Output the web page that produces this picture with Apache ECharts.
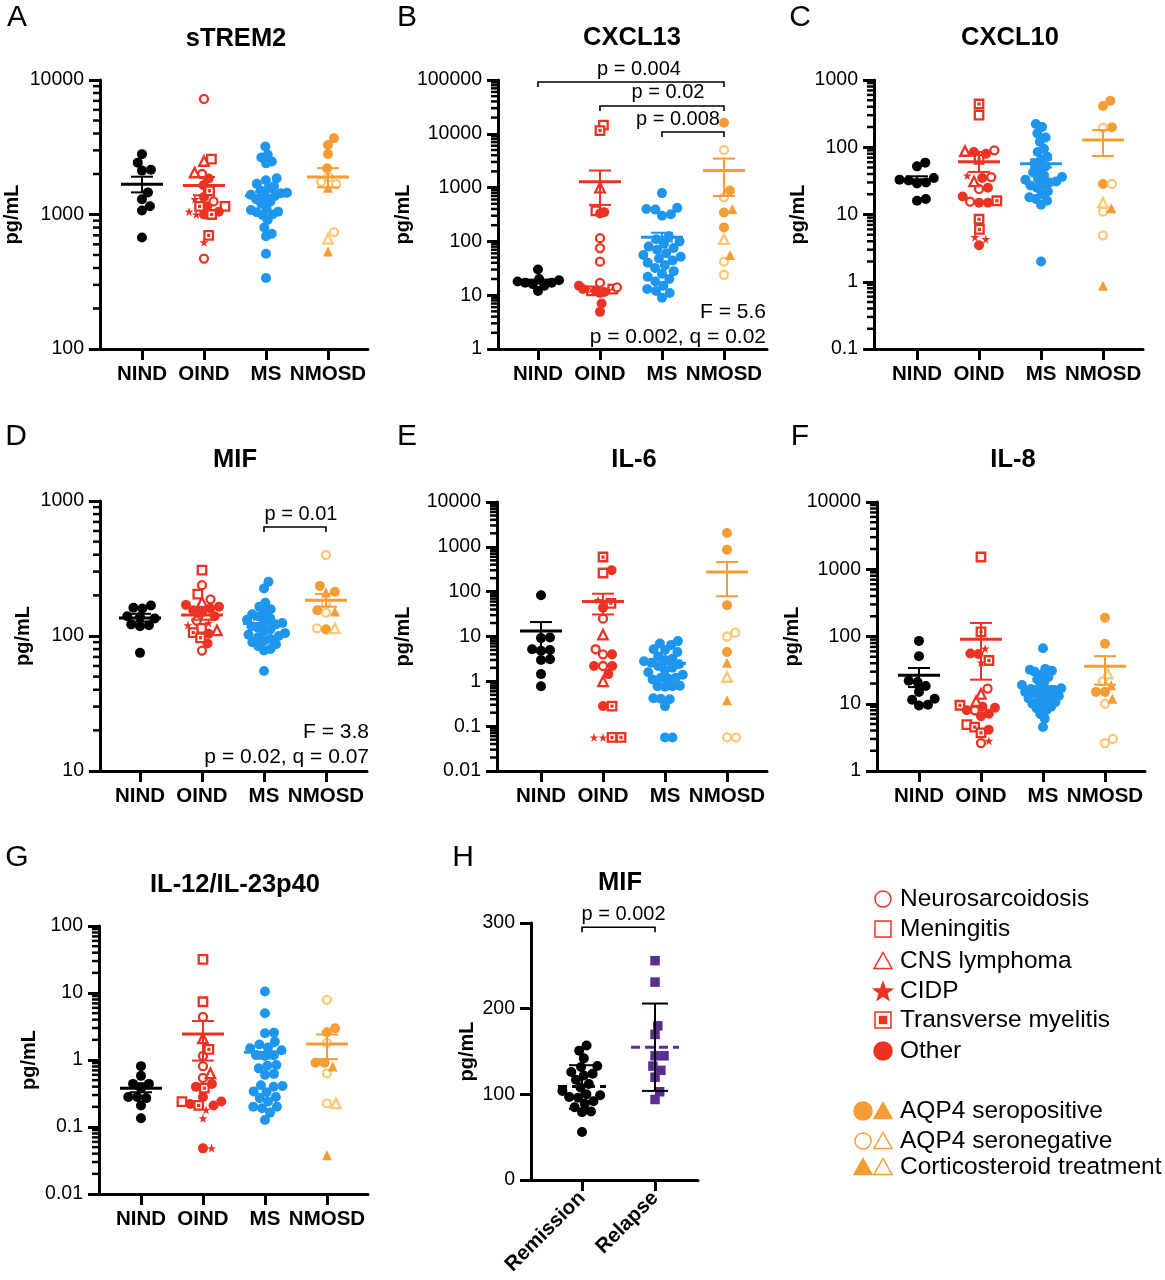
<!DOCTYPE html>
<html>
<head>
<meta charset="utf-8">
<script src="https://cdn.jsdelivr.net/npm/echarts@6/dist/echarts.min.js"></script>
<style>
html, body { margin: 0; padding: 0; background: #fff; }
#main { width: 1165px; height: 1280px; }
</style>
</head>
<body>
<div id="main"></div>
<script>
// values (pg/mL)
var groupNames = ['NIND', 'OIND', 'MS', 'NMOSD'];

// A  sTREM2
var strem2Nind = [2810, 2430, 2150, 2120, 1460, 1300, 1150, 1070, 675];
var strem2Oind = [[7230,'NS'],[2580,'MEN'],[2500,'LYM'],[2050,'LYM'],[2000,'NS'],[1850,'OTH'],[1650,'OTH'],[1500,'TM'],[1350,'OTH'],[1300,'CIDP'],[1250,'NS'],[1150,'OTH'],[1150,'TM'],[1150,'MEN'],[1050,'OTH'],[1050,'CIDP'],[1000,'OTH'],[1000,'TM'],[1000,'CIDP'],[700,'TM'],[620,'CIDP'],[470,'NS']];
var strem2Ms = [3200, 2780, 2650, 2480, 2400, 1860, 1800, 1690, 1620, 1560, 1500, 1450, 1440, 1400, 1380, 1360, 1300, 1250, 1200, 1110, 1080, 1050, 1040, 1000, 990, 910, 800, 720, 690, 510, 337];
var strem2Nmo = [[3690,'POS'],[3290,'POS'],[2820,'POS'],[2210,'POS'],[1900,'NEG'],[1750,'NEG'],[1680,'NEG'],[1580,'POS_CS'],[740,'NEG'],[660,'NEG_CS'],[530,'POS_CS']];
var strem2Mean = [1680, 1640, 1380, 1900];
var strem2Sem = [[1460, 1910], [1390, 1900], [1290, 1480], [1590, 2210]];

// B  CXCL13
var cxcl13Nind = [30, 20, 19, 18, 17, 17, 16, 15, 12];
var cxcl13Oind = [[14500,'MEN'],[11500,'TM'],[1000,'LYM'],[370,'MEN'],[350,'OTH'],[330,'OTH'],[115,'NS'],[75,'NS'],[42,'NS'],[17,'NS'],[15,'OTH'],[14,'NS'],[13,'CIDP'],[13,'TM'],[13,'OTH'],[12.5,'CIDP'],[12,'OTH'],[12,'TM'],[11.5,'OTH'],[11,'OTH'],[7,'OTH'],[4.9,'OTH']];
var cxcl13Ms = [790, 420, 400, 390, 320, 300, 124, 110, 100, 90, 80, 75, 70, 60, 56, 52, 48, 44, 40, 36, 32, 28, 25, 22, 20, 18, 15, 13, 12, 11, 9];
var cxcl13Nmo = [[16100,'POS'],[5020,'NEG'],[880,'POS'],[660,'NEG'],[400,'POS_CS'],[345,'POS'],[182,'POS'],[110,'NEG_CS'],[56,'POS_CS'],[42,'NEG'],[24,'NEG']];
var cxcl13Mean = [18, 1290, 120, 2080];
var cxcl13Sem = [[16.5, 19.5], [477, 2075], [100, 145], [700, 3470]];
var cxcl13Pairs = [[0, 3, 91800], [1, 3, 32900], [2, 3, 10800]];
var cxcl13PLabels = ['p = 0.004', 'p = 0.02', 'p = 0.008'];

// C  CXCL10
var cxcl10Nind = [59, 52, 35, 33, 32, 30, 29, 17, 16];
var cxcl10Oind = [[440,'TM'],[300,'MEN'],[90,'NS'],[88,'LYM'],[85,'OTH'],[80,'OTH'],[66,'TM'],[38,'CIDP'],[36,'NS'],[35,'OTH'],[31,'LYM'],[25,'OTH'],[24,'NS'],[18.5,'OTH'],[16,'TM'],[15.5,'NS'],[15,'OTH'],[15,'OTH'],[8.5,'TM'],[6,'TM'],[4.6,'CIDP'],[4.3,'CIDP'],[3.5,'OTH']];
var cxcl10Ms = [222, 200, 161, 140, 121, 95, 85, 72, 65, 58, 52, 47, 42, 38, 36, 34, 33, 31, 30, 28, 27, 25, 22, 20, 18, 17, 16, 14, 2];
var cxcl10Nmo = [[490,'POS'],[410,'POS'],[198,'POS'],[195,'NEG'],[28.5,'POS'],[28.5,'NEG'],[15,'NEG_CS'],[12.4,'POS_CS'],[11,'NEG'],[4.9,'NEG'],[0.87,'POS_CS']];
var cxcl10Mean = [33, 61, 57, 128];
var cxcl10Sem = [[29, 37], [43, 85], [50, 66], [74, 180]];

// D  MIF
var mifNind = [168, 162, 160, 140, 138, 135, 122, 120, 118, 75];
var mifOind = [[308,'MEN'],[238,'NS'],[204,'MEN'],[187,'NS'],[178,'LYM'],[170,'OTH'],[165,'OTH'],[160,'OTH'],[155,'OTH'],[150,'OTH'],[140,'OTH'],[130,'NS'],[125,'CIDP'],[120,'CIDP'],[114,'MEN'],[110,'LYM'],[106,'TM'],[104,'OTH'],[97,'TM'],[88,'OTH'],[78,'NS']];
var mifMs = [252, 225, 176, 165, 158, 150, 145, 140, 135, 132, 128, 125, 122, 118, 115, 112, 108, 105, 102, 100, 98, 95, 92, 90, 87, 84, 80, 78, 55];
var mifNmo = [[398,'NEG'],[235,'POS'],[213,'POS'],[210,'POS_CS'],[174,'NEG'],[155,'POS'],[152,'POS_CS'],[149,'NEG'],[114,'NEG_CS'],[114,'NEG'],[112,'POS']];
var mifMean = [136, 143, 124, 184];
var mifSem = [[128, 146], [132, 158], [117, 132], [165, 205]];
var mifPairs = [[2, 3, 641]];
var mifPLabels = ['p = 0.01'];

// E  IL-6
var il6Nind = [83, 9.5, 9.2, 5.2, 5.0, 4.8, 3.1, 3.0, 1.45, 0.78];
var il6Oind = [[593,'TM'],[300,'OTH'],[261,'MEN'],[65,'CIDP'],[55,'TM'],[44,'OTH'],[25,'NS'],[11,'LYM'],[5.2,'NS'],[4.0,'NS'],[4.0,'OTH'],[2.2,'NS'],[2.2,'OTH'],[2.2,'OTH'],[1.45,'OTH'],[1.0,'LYM'],[0.28,'OTH'],[0.28,'TM'],[0.056,'CIDP'],[0.056,'TM'],[0.056,'CIDP'],[0.056,'TM']];
var il6Ms = [7.9, 7.0, 6.5, 5.2, 5.0, 4.5, 3.6, 3.2, 3.0, 2.8, 2.6, 2.4, 2.2, 2.0, 1.8, 1.6, 1.4, 1.2, 1.2, 1.15, 1.1, 0.8, 0.78, 0.78, 0.76, 0.42, 0.41, 0.4, 0.28, 0.056, 0.056];
var il6Nmo = [[2040,'POS'],[865,'POS'],[50,'POS'],[12.2,'NEG'],[10,'NEG'],[4.5,'POS'],[2.6,'POS_CS'],[1.25,'NEG_CS'],[0.38,'POS_CS'],[0.056,'NEG'],[0.056,'NEG']];
var il6Mean = [13.3, 60, 2.5, 275];
var il6Sem = [[4.5, 21], [31, 90], [2.0, 3.0], [79, 460]];

// F  IL-8
var il8Nind = [86, 51, 22, 21, 18.4, 15, 11.9, 11.5, 9.7, 9.4];
var il8Oind = [[1520,'MEN'],[117,'TM'],[66,'CIDP'],[56,'OTH'],[55,'OTH'],[44,'TM'],[41,'CIDP'],[16.8,'NS'],[14,'LYM'],[10.9,'LYM'],[9.5,'TM'],[9,'OTH'],[8.7,'OTH'],[8,'NS'],[8,'OTH'],[7.1,'OTH'],[6.5,'OTH'],[4.9,'MEN'],[4.5,'TM'],[4.1,'OTH'],[3.7,'TM'],[2.8,'CIDP'],[2.6,'NS']];
var il8Ms = [67, 33, 32, 31, 30, 27, 25, 23, 21, 19, 18, 17, 16.5, 16, 15.5, 15, 14.5, 14, 13, 12.5, 12, 11.5, 11, 10.5, 10, 9.5, 9, 8.5, 8, 7, 6, 4.5];
var il8Nmo = [[190,'POS'],[78,'POS'],[28,'NEG_CS'],[21.5,'NEG'],[18.8,'POS_CS'],[15,'POS'],[15,'POS'],[11.9,'POS_CS'],[10,'NEG'],[3.0,'NEG'],[2.6,'NEG']];
var il8Mean = [26.5, 91, 16.2, 36];
var il8Sem = [[17.7, 34], [22.8, 159], [14.3, 18.3], [19.2, 51]];

// G  IL-12/IL-23p40
var il12Nind = [0.81, 0.58, 0.44, 0.44, 0.38, 0.28, 0.28, 0.27, 0.21, 0.135];
var il12Oind = [[31.8,'MEN'],[7.4,'MEN'],[4.4,'NS'],[2.1,'LYM'],[1.44,'TM'],[1.15,'NS'],[0.81,'NS'],[0.63,'LYM'],[0.54,'NS'],[0.44,'OTH'],[0.4,'OTH'],[0.38,'TM'],[0.28,'OTH'],[0.24,'OTH'],[0.24,'MEN'],[0.22,'OTH'],[0.21,'TM'],[0.21,'OTH'],[0.18,'CIDP'],[0.135,'CIDP'],[0.048,'OTH'],[0.048,'CIDP']];
var il12Ms = [10.5, 5.0, 2.56, 2.5, 1.88, 1.7, 1.54, 1.5, 1.4, 1.19, 1.18, 1.15, 0.84, 0.82, 0.75, 0.62, 0.6, 0.42, 0.41, 0.4, 0.34, 0.33, 0.28, 0.27, 0.24, 0.2, 0.2, 0.19, 0.164, 0.127];
var il12Nmo = [[7.9,'NEG'],[2.97,'POS'],[2.6,'POS'],[1.8,'NEG'],[0.91,'POS'],[0.91,'POS'],[0.8,'POS_CS'],[0.63,'NEG'],[0.225,'NEG'],[0.225,'NEG_CS'],[0.038,'POS_CS']];
var il12Mean = [0.38, 2.44, 1.3, 1.73];
var il12Sem = [[0.33, 0.45], [0.98, 3.82], [1.05, 1.6], [1.03, 2.4]];

// H  MIF, NMOSD remission vs relapse (mean +/- SD)
var hGroups = ['Remission', 'Relapse'];
var mifRemission = [157, 151, 142, 133, 132, 126, 124, 122, 117, 112, 108, 104, 100, 99, 97, 96, 92, 89, 85, 80, 79, 56];
var mifRelapse = [256, 231, 180, 170, 145, 145, 133, 128, 120, 103, 94];
var hMean = [109, 155];
var hSd = [[83, 134], [104, 206]];
var hPairs = [[0, 1, 295]];
var hPLabels = ['p = 0.002'];

var legendOind = ['Neurosarcoidosis', 'Meningitis', 'CNS lymphoma', 'CIDP', 'Transverse myelitis', 'Other'];
var legendNmo = ['AQP4 seropositive', 'AQP4 seronegative', 'Corticosteroid treatment'];

// ---- styles ----
var FONT = 'Liberation Sans, Arial, Helvetica, sans-serif';
var RED = '#ec3323', BLUE = '#1f96ee', ORANGE = '#f59c34', LIGHT = '#f8c878', PURPLE = '#5b2d8d';
var STAR = 'path://M50,0L61.8,35.3L99,35.3L69,57.2L80.4,92.7L50,70.8L19.6,92.7L31,57.2L1,35.3L38.2,35.3Z';

var kindStyle = {
  NIND:   { symbol: 'circle', size: 10, color: '#000' },
  MS:     { symbol: 'circle', size: 10, color: BLUE },
  OTH:    { symbol: 'circle', size: 10, color: RED },
  NS:     { symbol: 'circle', size: 8, color: '#fff', border: RED },
  MEN:    { symbol: 'rect', size: 8.5, color: '#fff', border: RED },
  TM:     { symbol: 'rect', size: 8.5, color: '#fff', border: RED },
  LYM:    { symbol: 'triangle', size: 9.5, color: '#fff', border: RED },
  CIDP:   { symbol: STAR, size: 9, color: RED },
  POS:    { symbol: 'circle', size: 10, color: ORANGE },
  POS_CS: { symbol: 'triangle', size: 10, color: ORANGE },
  NEG:    { symbol: 'circle', size: 8, color: '#fff', border: LIGHT },
  NEG_CS: { symbol: 'triangle', size: 9.5, color: '#fff', border: LIGHT },
  REM:    { symbol: 'circle', size: 10, color: '#000' },
  REL:    { symbol: 'rect', size: 9.5, color: PURPLE }
};

var panels = [
  { letter: 'A', title: 'sTREM2', groups: [strem2Nind, strem2Oind, strem2Ms, strem2Nmo], mean: strem2Mean, err: strem2Sem, yMin: 100, yMax: 10000 },
  { letter: 'B', title: 'CXCL13', groups: [cxcl13Nind, cxcl13Oind, cxcl13Ms, cxcl13Nmo], mean: cxcl13Mean, err: cxcl13Sem, yMin: 1, yMax: 100000,
    pairs: cxcl13Pairs, pLabels: cxcl13PLabels, pShift: [8, 6, -15], stats: ['F = 5.6', 'p = 0.002, q = 0.02'] },
  { letter: 'C', title: 'CXCL10', groups: [cxcl10Nind, cxcl10Oind, cxcl10Ms, cxcl10Nmo], mean: cxcl10Mean, err: cxcl10Sem, yMin: 0.1, yMax: 1000 },
  { letter: 'D', title: 'MIF', groups: [mifNind, mifOind, mifMs, mifNmo], mean: mifMean, err: mifSem, yMin: 10, yMax: 1000,
    pairs: mifPairs, pLabels: mifPLabels, pShift: [6], stats: ['F = 3.8', 'p = 0.02, q = 0.07'] },
  { letter: 'E', title: 'IL-6', groups: [il6Nind, il6Oind, il6Ms, il6Nmo], mean: il6Mean, err: il6Sem, yMin: 0.01, yMax: 10000 },
  { letter: 'F', title: 'IL-8', groups: [il8Nind, il8Oind, il8Ms, il8Nmo], mean: il8Mean, err: il8Sem, yMin: 1, yMax: 10000 },
  { letter: 'G', title: 'IL-12/IL-23p40', groups: [il12Nind, il12Oind, il12Ms, il12Nmo], mean: il12Mean, err: il12Sem, yMin: 0.01, yMax: 100 },
  { letter: 'H', title: 'MIF', groups: [mifRemission, mifRelapse], mean: hMean, err: hSd, yMin: 0, yMax: 300, linear: true,
    cats: hGroups, pairs: hPairs, pLabels: hPLabels, pShift: [5] }
];

// pixel frame of every panel (axis corner, size, first category offset)
var frames = [
  { left: 100, top: 80,  width: 268, height: 269, x0: -0.677, step: 62, nameGap: 78, title: [236, 39], letter: [17, 18] },
  { left: 498, top: 80,  width: 269, height: 269, x0: -0.645, step: 62, nameGap: 85, title: [632, 38], letter: [407, 18], stats: [766, 312, 337] },
  { left: 874, top: 80,  width: 269, height: 269, x0: -0.694, step: 62, nameGap: 66, title: [1010, 38], letter: [800, 18] },
  { left: 100, top: 501, width: 267, height: 270, x0: -0.645, step: 62, nameGap: 67, title: [235, 460], letter: [16, 437], stats: [369, 732, 757] },
  { left: 497, top: 502, width: 270, height: 269, x0: -0.710, step: 62, nameGap: 84, title: [634, 460], letter: [407, 437] },
  { left: 877, top: 502, width: 268, height: 269, x0: -0.677, step: 62, nameGap: 70, title: [1013, 460], letter: [800, 437] },
  { left: 99,  top: 926, width: 269, height: 268, x0: -0.677, step: 62, nameGap: 60, title: [235, 885], letter: [17, 858] },
  { left: 531, top: 923, width: 167, height: 257, x0: -0.699, step: 73, nameGap: 54, title: [620, 883], letter: [463, 858] }
];

// simple beeswarm: horizontal offsets (px) so that dots of diameter d do not overlap,
// then squeezed so that no group spreads wider than maxHalf px
function swarm(ys, d, maxHalf) {
  var order = ys.map(function (y, i) { return i; }).sort(function (a, b) { return ys[a] - ys[b]; });
  var placed = [], out = [];
  order.forEach(function (i) {
    var y = ys[i], cands = [0];
    placed.forEach(function (p) {
      var dy = Math.abs(p.y - y);
      if (dy < d) {
        var dx = Math.sqrt(d * d - dy * dy);
        cands.push(p.x + dx, p.x - dx);
      }
    });
    cands.sort(function (a, b) { return Math.abs(a) - Math.abs(b); });
    for (var k = 0; k < cands.length; k++) {
      var c = cands[k];
      var ok = placed.every(function (p) { return (p.x - c) * (p.x - c) + (p.y - y) * (p.y - y) >= d * d - 0.01; });
      if (ok) { out[i] = c; placed.push({ x: c, y: y }); break; }
    }
  });
  var widest = Math.max.apply(null, out.map(Math.abs));
  if (widest > maxHalf) out = out.map(function (o) { return o * maxHalf / widest; });
  return out;
}

function fmtNum(v) { return String(+Number(v).toPrecision(6)); }

function minorTickItem(params, api) {
  var p = api.coord([api.value(0), api.value(1)]);
  return { type: 'line', shape: { x1: p[0] - 7, y1: p[1], x2: p[0], y2: p[1] }, style: { stroke: '#000', lineWidth: 2.5 } };
}

function errorBarItem(colors, meanHalf, capHalf, dashed, barColor) {
  return function (params, api) {
    var g = api.value(0);
    var m = api.coord([g, api.value(1)]);
    var lo = api.coord([g, api.value(2)]);
    var hi = api.coord([g, api.value(3)]);
    var mc = colors[g], bc = barColor || mc, x = m[0];
    return { type: 'group', children: [
      { type: 'line', shape: { x1: x, y1: lo[1], x2: x, y2: hi[1] }, style: { stroke: bc, lineWidth: 2 } },
      { type: 'line', shape: { x1: x - capHalf, y1: lo[1], x2: x + capHalf, y2: lo[1] }, style: { stroke: bc, lineWidth: 2 } },
      { type: 'line', shape: { x1: x - capHalf, y1: hi[1], x2: x + capHalf, y2: hi[1] }, style: { stroke: bc, lineWidth: 2 } },
      { type: 'line', shape: { x1: x - meanHalf, y1: m[1], x2: x + meanHalf, y2: m[1] }, style: { stroke: mc, lineWidth: 3, lineDash: dashed ? [9, 5] : null } }
    ] };
  };
}

function bracketItem(labels, shifts) {
  return function (params, api) {
    var a = api.coord([api.value(0), api.value(2)]);
    var b = api.coord([api.value(1), api.value(2)]);
    var i = params.dataIndex;
    return { type: 'group', children: [
      { type: 'polyline', shape: { points: [[a[0], a[1] + 5], [a[0], a[1]], [b[0], b[1]], [b[0], b[1] + 5]] }, style: { stroke: '#000', lineWidth: 1.6, fill: null } },
      { type: 'text', x: (a[0] + b[0]) / 2 + shifts[i], y: a[1] - 13, style: { text: labels[i], fill: '#000', fontSize: 20, fontFamily: FONT, align: 'center', verticalAlign: 'middle' } }
    ] };
  };
}

function txt(x, y, s, size, weight, align) {
  return { type: 'text', x: x, y: y, silent: true, z: 10,
    style: { text: s, fill: '#000', fontSize: size, fontWeight: weight || 'normal', fontFamily: FONT, align: align || 'center', verticalAlign: 'middle' } };
}

var grids = [], xAxes = [], yAxes = [], series = [], graphics = [];

panels.forEach(function (p, pi) {
  var f = frames[pi];
  var cats = p.cats || groupNames;
  var idx = cats.map(function (c, i) { return i; });
  var xMin = f.x0, xMax = f.x0 + f.width / f.step;
  var lmin = p.linear ? p.yMin : Math.log10(p.yMin);
  var lmax = p.linear ? p.yMax : Math.log10(p.yMax);

  grids.push({ left: f.left, top: f.top, width: f.width, height: f.height });
  xAxes.push({
    type: 'value', gridIndex: pi, min: xMin, max: xMax,
    axisLine: { onZero: false, lineStyle: { color: '#000', width: 3 } },
    axisTick: { customValues: idx, length: 11, lineStyle: { color: '#000', width: 3 } },
    axisLabel: { customValues: idx, formatter: function (v) { return cats[Math.round(v)]; },
      margin: 15, color: '#000', fontFamily: FONT, fontWeight: 'bold', fontSize: 20.5, rotate: p.linear ? 45 : 0 },
    splitLine: { show: false }
  });
  var ya = {
    type: p.linear ? 'value' : 'log', gridIndex: pi, min: p.yMin, max: p.yMax,
    name: 'pg/mL', nameLocation: 'middle', nameGap: f.nameGap,
    nameTextStyle: { color: '#000', fontFamily: FONT, fontWeight: 'bold', fontSize: 20 },
    axisLine: { show: true, onZero: false, lineStyle: { color: '#000', width: 3 } },
    axisTick: { show: true, length: 11, lineStyle: { color: '#000', width: 3 } },
    axisLabel: { margin: 16, color: '#000', fontFamily: FONT, fontSize: 19.5, formatter: fmtNum },
    splitLine: { show: false }
  };
  if (p.linear) ya.interval = 100; else ya.logBase = 10;
  yAxes.push(ya);

  // dots
  var buckets = {};
  p.groups.forEach(function (arr, g) {
    var items = arr.map(function (it) {
      if (Array.isArray(it)) return { v: it[0], kind: it[1] };
      var kind = p.linear ? (g === 0 ? 'REM' : 'REL') : (g === 0 ? 'NIND' : 'MS');
      return { v: it, kind: kind };
    });
    var ys = items.map(function (it) {
      var t = p.linear ? it.v : Math.log10(it.v);
      return (t - lmin) / (lmax - lmin) * f.height;
    });
    var offs = swarm(ys, 9, p.linear ? 24 : 21);
    items.forEach(function (it, k) {
      (buckets[it.kind] = buckets[it.kind] || []).push([g + offs[k] / f.step, it.v]);
    });
  });
  Object.keys(buckets).forEach(function (kind) {
    var s = kindStyle[kind];
    series.push({
      type: 'scatter', xAxisIndex: pi, yAxisIndex: pi, data: buckets[kind], z: 2,
      symbol: s.symbol, symbolSize: s.size,
      itemStyle: { color: s.color, borderColor: s.border || s.color, borderWidth: s.border ? 2.3 : 0, opacity: 1 }
    });
    if (kind === 'TM') {
      series.push({ type: 'scatter', xAxisIndex: pi, yAxisIndex: pi, data: buckets[kind], z: 3,
        symbol: 'rect', symbolSize: 3.2, itemStyle: { color: RED, opacity: 1 } });
    }
  });

  // mean and error bars
  var errData = p.mean.map(function (m, g) { return [g, m, p.err[g][0], p.err[g][1]]; });
  series.push({
    type: 'custom', xAxisIndex: pi, yAxisIndex: pi, z: 5, data: errData,
    encode: { x: 0, y: [1, 2, 3] },
    renderItem: p.linear ? errorBarItem(['#000', PURPLE], 24, 13, true, '#000')
                         : errorBarItem(['#000', RED, BLUE, ORANGE], 21, 11, false)
  });

  // minor log ticks 2..9 in each decade
  if (!p.linear) {
    var minor = [];
    for (var dd = Math.round(lmin); dd < Math.round(lmax); dd++) {
      for (var k = 2; k <= 9; k++) minor.push([xMin, +(k * Math.pow(10, dd)).toPrecision(6)]);
    }
    series.push({ type: 'custom', xAxisIndex: pi, yAxisIndex: pi, z: 4, data: minor, renderItem: minorTickItem, silent: true });
  }

  // significance brackets
  if (p.pairs) {
    series.push({ type: 'custom', xAxisIndex: pi, yAxisIndex: pi, z: 6, data: p.pairs,
      encode: { x: [0, 1], y: 2 }, renderItem: bracketItem(p.pLabels, p.pShift), silent: true });
  }

  graphics.push(txt(f.title[0], f.title[1], p.title, 25.5, 'bold'));
  graphics.push(txt(f.letter[0], f.letter[1], p.letter, 30, 'normal'));
  if (p.stats) {
    graphics.push(txt(f.stats[0], f.stats[1], p.stats[0], 21, 'normal', 'right'));
    graphics.push(txt(f.stats[0], f.stats[2], p.stats[1], 21, 'normal', 'right'));
  }
});

// legend (drawn as graphic shapes)
function legendShape(kind, cx, cy, color) {
  var st = { fill: color, stroke: color, lineWidth: 1.5 };
  var open = { fill: '#fff', stroke: color, lineWidth: 1.5 };
  var tri = [[cx, cy - 8.5], [cx + 9, cy + 7.5], [cx - 9, cy + 7.5]];
  switch (kind) {
    case 'NS': return [{ type: 'circle', shape: { cx: cx, cy: cy, r: 8 }, style: open }];
    case 'MEN': return [{ type: 'rect', shape: { x: cx - 8, y: cy - 8, width: 16, height: 16 }, style: open }];
    case 'LYM': case 'NEG_CS': return [{ type: 'polygon', shape: { points: tri }, style: open }];
    case 'POS_CS': return [{ type: 'polygon', shape: { points: tri }, style: st }];
    case 'CIDP':
      var pts = [];
      for (var i = 0; i < 10; i++) {
        var r = i % 2 ? 3.9 : 9.5, a = -Math.PI / 2 + i * Math.PI / 5;
        pts.push([cx + r * Math.cos(a), cy + 1 + r * Math.sin(a)]);
      }
      return [{ type: 'polygon', shape: { points: pts }, style: st }];
    case 'TM': return [
      { type: 'rect', shape: { x: cx - 8, y: cy - 8, width: 16, height: 16 }, style: open },
      { type: 'rect', shape: { x: cx - 3.5, y: cy - 3.5, width: 7, height: 7 }, style: st }];
    case 'NEG': return [{ type: 'circle', shape: { cx: cx, cy: cy, r: 8 }, style: open }];
    default: return [{ type: 'circle', shape: { cx: cx, cy: cy, r: 9 }, style: st }];
  }
}
var legendKindsOind = ['NS', 'MEN', 'LYM', 'CIDP', 'TM', 'OTH'];
var legendKindsNmo = [['POS', 'POS_CS'], ['NEG', 'NEG_CS'], ['POS_CS', 'NEG_CS']];
var legendRowsOind = [899, 929, 961, 991, 1020, 1051];
var legendRowsNmo = [1111, 1141, 1167];
legendOind.forEach(function (name, i) {
  graphics = graphics.concat(legendShape(legendKindsOind[i], 883, legendRowsOind[i], RED));
  graphics.push(txt(900, legendRowsOind[i], name, 24.5, 'normal', 'left'));
});
legendNmo.forEach(function (name, i) {
  graphics = graphics.concat(legendShape(legendKindsNmo[i][0], 863, legendRowsNmo[i], ORANGE));
  graphics = graphics.concat(legendShape(legendKindsNmo[i][1], 883, legendRowsNmo[i], ORANGE));
  graphics.push(txt(900, legendRowsNmo[i], name, 24.5, 'normal', 'left'));
});

var chart = echarts.init(document.getElementById('main'), null, { renderer: 'canvas' });
chart.setOption({
  backgroundColor: '#fff',
  animation: false,
  grid: grids,
  xAxis: xAxes,
  yAxis: yAxes,
  series: series,
  graphic: graphics
});
</script>
</body>
</html>
